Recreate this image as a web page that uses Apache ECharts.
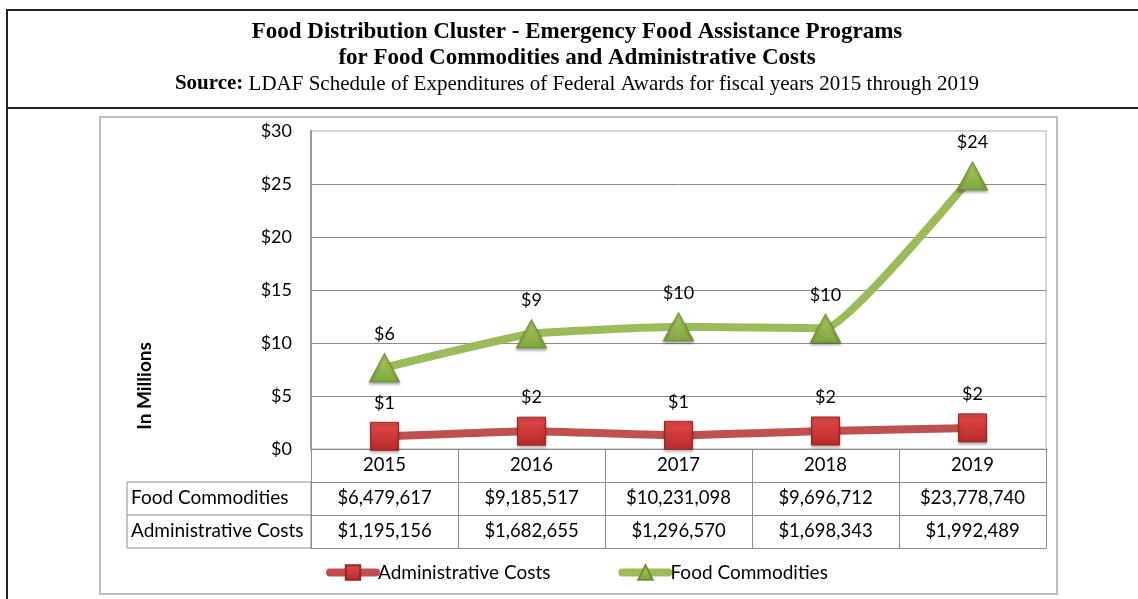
<!DOCTYPE html>
<html lang="en" style="height: 100%">
<head>
    <meta charset="utf-8">
    <title>Food Distribution Cluster</title>
    <style>
        body { margin: 0; height: 100%; background: #fff; }
        #container { width: 1138px; height: 599px; }
    </style>
</head>
<body>
    <div id="container"></div>
    <script src="https://cdn.jsdelivr.net/npm/echarts@6/dist/echarts.min.js"></script>
    <script>
// data
const years = ['2015', '2016', '2017', '2018', '2019'];
const foodCommodities = [6479617, 9185517, 10231098, 9696712, 23778740];
const adminCosts = [1195156, 1682655, 1296570, 1698343, 1992489];
const yTicks = [0, 5, 10, 15, 20, 25, 30];

const FONT = 'Lato';
const SERIF = 'Liberation Serif';
const GRID_GRAY = '#8c8c8c';

// dollars -> millions for plotting
const toMillions = arr => arr.map(v => v / 1e6);
const money = v => '$' + v.toLocaleString('en-US');

const chart = echarts.init(document.getElementById('container'));

const gradient = (top, bottom) => new echarts.graphic.LinearGradient(0, 0, 0, 1, [
    { offset: 0, color: top },
    { offset: 1, color: bottom }
]);

// one bottom axis per table row, stacked with offsets
function tableAxis(data, offset) {
    return {
        type: 'category',
        data: data,
        position: 'bottom',
        offset: offset,
        axisLine: { show: true, lineStyle: { color: GRID_GRAY, width: 1 } },
        axisTick: { show: true, length: 33, lineStyle: { color: GRID_GRAY } },
        axisLabel: { fontFamily: FONT, fontSize: 18.5, color: '#000', margin: 7 },
        splitLine: { show: false }
    };
}

const dataLabel = {
    show: true,
    position: 'top',
    distance: 10,
    fontFamily: FONT,
    fontSize: 18,
    color: '#000',
    formatter: p => '$' + Math.round(p.value)
};

const option = {
    animation: false,
    backgroundColor: '#fff',
    grid: {
        left: 311,
        right: 92,
        top: 131,
        bottom: 150,
        show: true,
        borderColor: '#d6d6d6',
        borderWidth: 2
    },
    xAxis: [
        tableAxis(years, 0),
        tableAxis(foodCommodities.map(money), 33),
        tableAxis(adminCosts.map(money), 66),
        {
            type: 'category',
            data: years,
            position: 'bottom',
            offset: 99,
            axisLine: { show: true, lineStyle: { color: GRID_GRAY } },
            axisTick: { show: false },
            axisLabel: { show: false }
        }
    ],
    yAxis: {
        type: 'value',
        min: yTicks[0],
        max: yTicks[yTicks.length - 1],
        interval: 5,
        axisLine: { show: true, lineStyle: { color: '#9a9a9a', width: 2 } },
        axisTick: { show: false },
        axisLabel: {
            fontFamily: FONT,
            fontSize: 18,
            color: '#000',
            margin: 19,
            formatter: v => '$' + v
        },
        splitLine: { show: true, showMaxLine: false, lineStyle: { color: GRID_GRAY, width: 1 } }
    },
    legend: {
        left: 326,
        top: 563,
        padding: 0,
        itemWidth: 46,
        itemHeight: 18,
        itemGap: 68,
        lineStyle: { width: 8, cap: 'round' },
        textStyle: { fontFamily: FONT, fontSize: 19, color: '#000', padding: [0, 0, 0, -3] },
        data: ['Administrative Costs', 'Food Commodities']
    },
    series: [
        {
            name: 'Administrative Costs',
            type: 'line',
            stack: 'total',
            smooth: 0.12,
            data: toMillions(adminCosts),
            symbol: 'rect',
            symbolSize: 28,
            lineStyle: { color: '#c0504d', width: 8 },
            itemStyle: {
                color: gradient('#e24a47', '#b8292a'),
                borderColor: '#962624',
                borderWidth: 1,
                shadowColor: 'rgba(0,0,0,0.35)',
                shadowBlur: 3,
                shadowOffsetY: 2
            },
            label: dataLabel,
            z: 3
        },
        {
            name: 'Food Commodities',
            type: 'line',
            stack: 'total',
            smooth: 0.12,
            data: toMillions(foodCommodities),
            symbol: 'triangle',
            symbolSize: [30, 28],
            lineStyle: { color: '#9bbb59', width: 8 },
            itemStyle: {
                color: gradient('#a9cf5f', '#7fa53c'),
                borderColor: '#6d8f33',
                borderWidth: 1,
                shadowColor: 'rgba(0,0,0,0.35)',
                shadowBlur: 3,
                shadowOffsetY: 2
            },
            label: dataLabel,
            z: 3
        }
    ],
    graphic: [
        // outer frame
        { type: 'line', shape: { x1: 6, y1: 10, x2: 1138, y2: 10 }, style: { stroke: '#222', lineWidth: 2 } },
        { type: 'line', shape: { x1: 6, y1: 108, x2: 1138, y2: 108 }, style: { stroke: '#222', lineWidth: 2 } },
        { type: 'line', shape: { x1: 7, y1: 10, x2: 7, y2: 599 }, style: { stroke: '#222', lineWidth: 2 } },
        // chart box
        { type: 'rect', shape: { x: 100, y: 117, width: 957, height: 477 }, style: { fill: null, stroke: '#bdbdbd', lineWidth: 2 }, z: -1 },
        // title
        {
            type: 'text', x: 577, y: 32,
            style: { text: 'Food Distribution Cluster - Emergency Food Assistance Programs', font: 'bold 23px "' + SERIF + '"', fill: '#000', align: 'center', verticalAlign: 'middle' }
        },
        {
            type: 'text', x: 577, y: 58,
            style: { text: 'for Food Commodities and Administrative Costs', font: 'bold 23px "' + SERIF + '"', fill: '#000', align: 'center', verticalAlign: 'middle' }
        },
        {
            type: 'text', x: 577, y: 84,
            style: {
                text: '{b|Source:} LDAF Schedule of Expenditures of Federal Awards for fiscal years 2015 through 2019',
                font: '21px "' + SERIF + '"', fill: '#000', align: 'center', verticalAlign: 'middle',
                rich: { b: { fontWeight: 'bold', fontFamily: SERIF, fontSize: 21 } }
            }
        },
        // y axis name
        {
            type: 'text', x: 145, y: 386, rotation: Math.PI / 2,
            style: { text: 'In Millions', font: 'bold 19px "' + FONT + '"', fill: '#000', align: 'center', verticalAlign: 'middle' }
        },
        // table row headers
        { type: 'rect', shape: { x: 127, y: 482, width: 184, height: 66 }, style: { fill: null, stroke: GRID_GRAY, lineWidth: 1 } },
        { type: 'line', shape: { x1: 127, y1: 515, x2: 311, y2: 515 }, style: { stroke: GRID_GRAY, lineWidth: 1 } },
        {
            type: 'text', x: 131, y: 498,
            style: { text: 'Food Commodities', font: '19px "' + FONT + '"', fill: '#000', verticalAlign: 'middle' }
        },
        {
            type: 'text', x: 131, y: 531,
            style: { text: 'Administrative Costs', font: '19px "' + FONT + '"', fill: '#000', verticalAlign: 'middle' }
        }
    ]
};

chart.setOption(option);

window.addEventListener('resize', () => chart.resize());
    </script>
</body>
</html>
